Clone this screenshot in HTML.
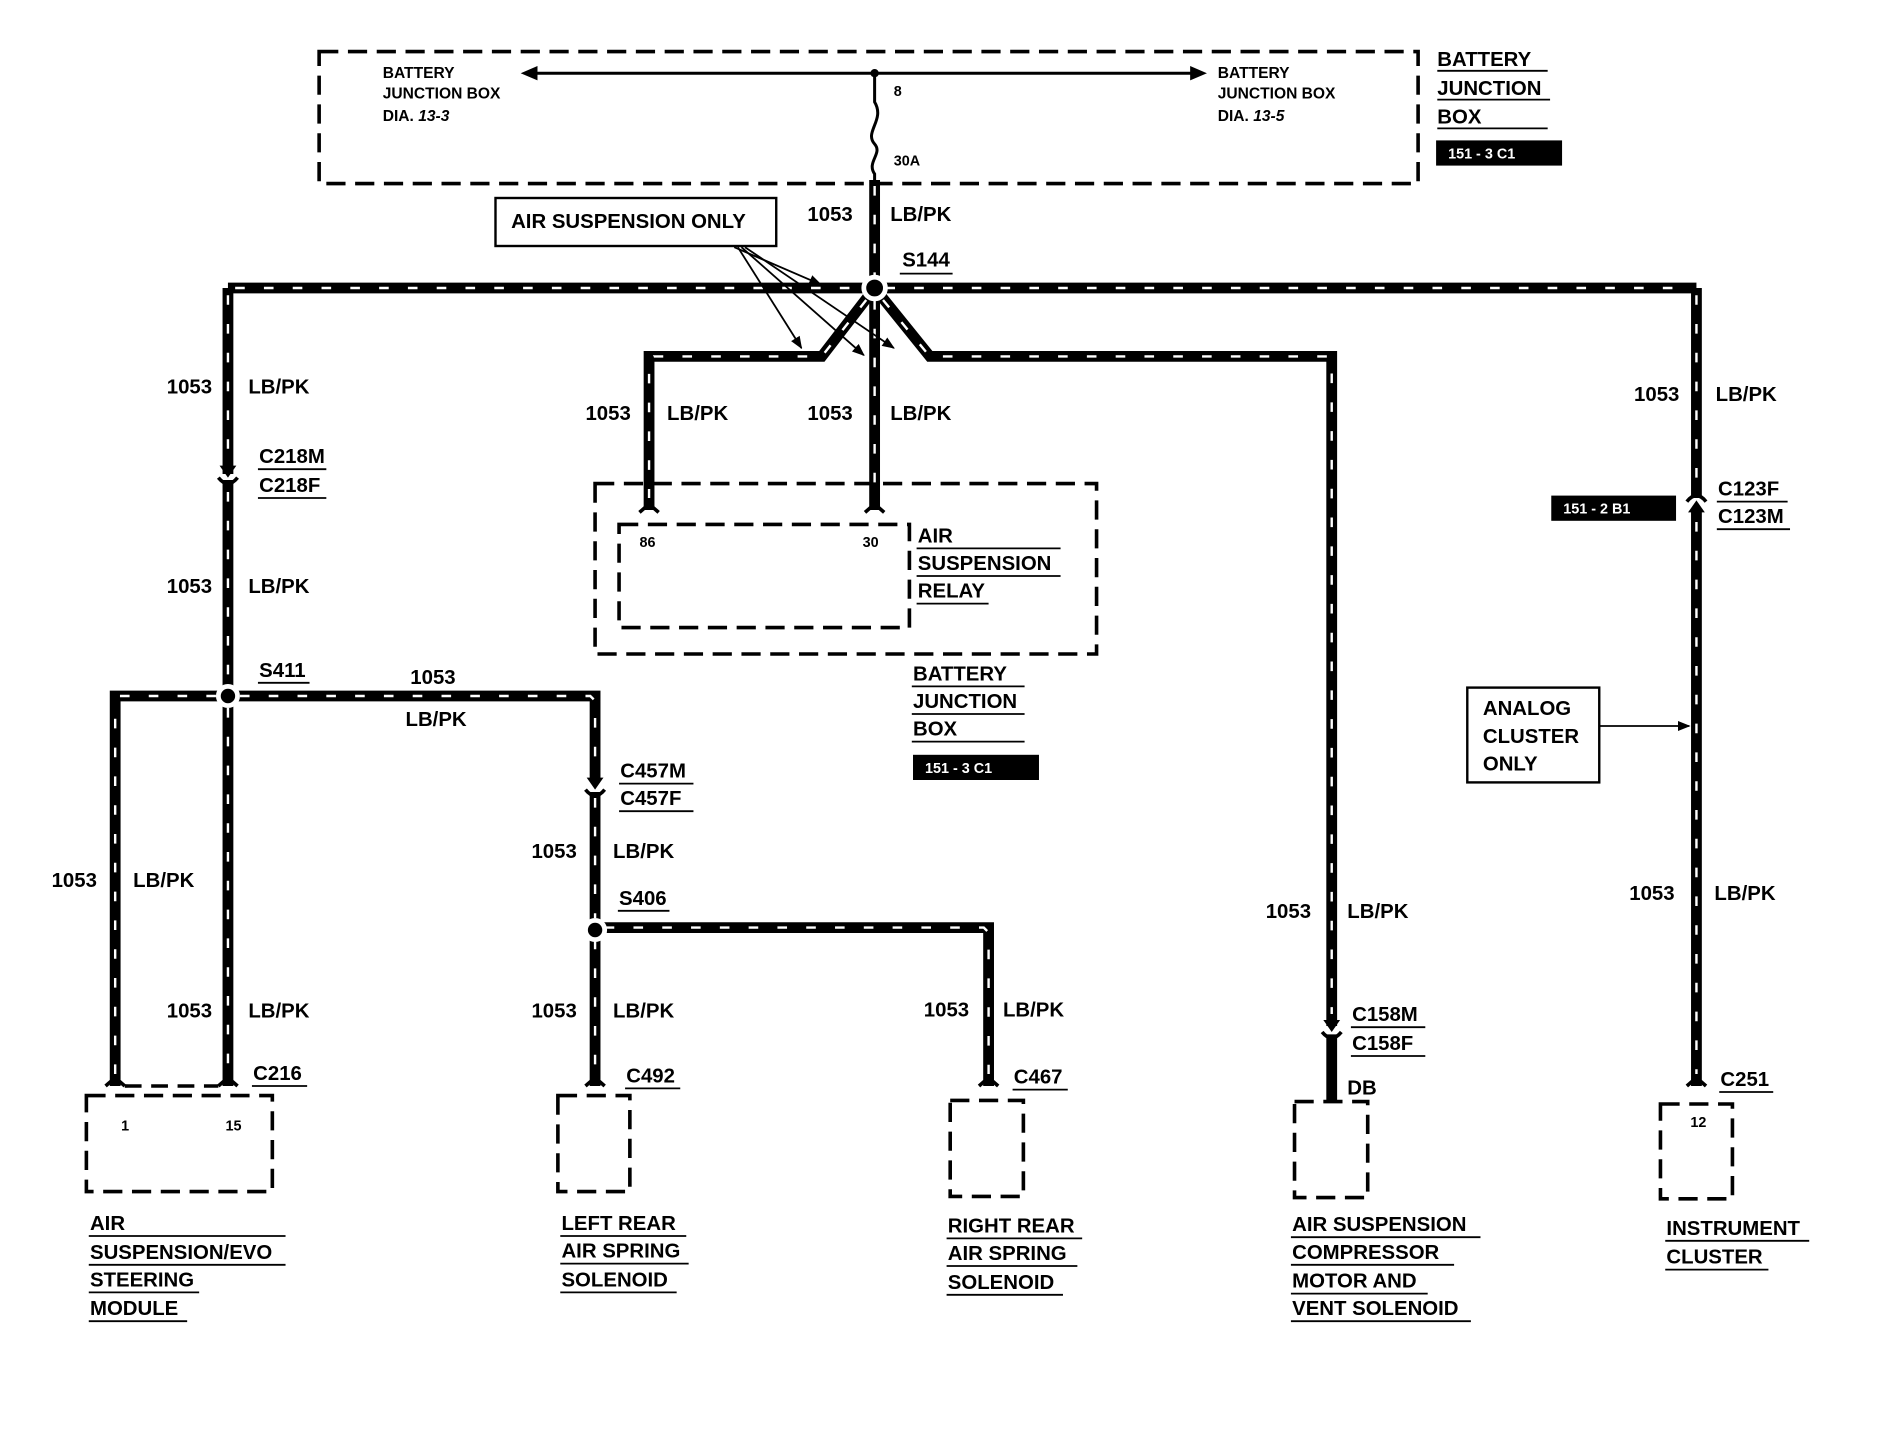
<!DOCTYPE html>
<html><head><meta charset="utf-8"><style>
html,body{margin:0;padding:0;background:#fff;}
svg{display:block;}
text{font-family:"Liberation Sans",Arial,sans-serif;font-weight:bold;fill:#000;}
</style></head><body>
<svg width="1880" height="1440" viewBox="0 0 1567 1200" preserveAspectRatio="none" xmlns="http://www.w3.org/2000/svg">
<defs>
<marker id="ah" viewBox="0 0 10 10" refX="9" refY="5" markerWidth="7" markerHeight="7" orient="auto"><path d="M0,1 L10,5 L0,9 z" fill="#000"/></marker>
</defs>
<rect width="1567" height="1200" fill="#fff"/>
<g fill="none" stroke="#000" stroke-width="3" stroke-dasharray="16,8">
<rect x="266" y="43" width="916" height="110"/>
<rect x="496" y="403" width="418" height="142"/>
<rect x="516" y="437" width="242" height="86"/>
<rect x="72" y="913" width="155" height="80"/>
<rect x="465" y="913" width="60" height="80"/>
<rect x="792" y="917" width="61" height="80"/>
<rect x="1079" y="918" width="61" height="80"/>
<rect x="1384" y="920" width="60" height="79"/>
</g>
<line x1="440" y1="61" x2="1000" y2="61" stroke="#000" stroke-width="2.5"/>
<path d="M448,55 L434,61 L448,67 z M992,55 L1006,61 L992,67 z"/>
<circle cx="729" cy="61" r="3.5"/>
<path d="M729,61 L729,85 C738,100 720,110 729,120 C736,128 722,135 729,145 L729,150" fill="none" stroke="#000" stroke-width="2.5"/>
<text x="319" y="65" font-size="13" font-weight="normal">BATTERY</text>
<text x="319" y="82" font-size="13" font-weight="normal">JUNCTION BOX</text>
<text x="319" y="101" font-size="13" font-weight="normal">DIA. <tspan font-style="italic">13-3</tspan></text>
<text x="1015" y="65" font-size="13" font-weight="normal">BATTERY</text>
<text x="1015" y="82" font-size="13" font-weight="normal">JUNCTION BOX</text>
<text x="1015" y="101" font-size="13" font-weight="normal">DIA. <tspan font-style="italic">13-5</tspan></text>
<text x="745" y="80" font-size="12" font-weight="normal">8</text>
<text x="745" y="138" font-size="12" font-weight="normal">30A</text>
<g fill="none" stroke="#000" stroke-width="9" stroke-linejoin="miter">
<path d="M729,150 L729,240"/>
<path d="M190,240 L1414,240"/>
<path d="M190,240 L190,395 M190,400 L190,905"/>
<path d="M96,905 L96,580 L496,580 L496,650 M496,660 L496,905"/>
<path d="M496,773 L824,773 L824,905"/>
<path d="M729,240 L685,297 L541,297 L541,425"/>
<path d="M729,240 L729,425"/>
<path d="M729,240 L775,297 L1110,297 L1110,855 M1110,862 L1110,918"/>
<path d="M1414,240 L1414,415 M1414,425 L1414,905"/>
</g>
<g fill="none" stroke="#fff" stroke-width="2" stroke-dasharray="8,16">
<path d="M729,155 L729,232"/>
<path d="M196,240 L720,240 M738,240 L1410,240"/>
<path d="M190,246 L190,390 M190,410 L190,570 M190,590 L190,895"/>
<path d="M96,895 L96,584 M100,580 L182,580 M200,580 L492,580 L496,584 L496,645 M496,665 L496,765 M496,783 L496,895"/>
<path d="M504,773 L820,773 L824,777 L824,895"/>
<path d="M722,250 L685,297 L545,297 L541,301 L541,415"/>
<path d="M729,250 L729,415"/>
<path d="M736,250 L775,297 L1106,297 L1110,301 L1110,845"/>
<path d="M1414,246 L1414,410 M1414,435 L1414,895"/>
</g>
<g stroke="#fff" stroke-width="4">
<circle cx="729" cy="240" r="9"/>
<circle cx="190" cy="580" r="8"/>
<circle cx="496" cy="775" r="8"/>
</g>
<g fill="#000">
<path d="M183,388 L197,388 L190,398 z"/>
<path d="M489,648 L503,648 L496,658 z"/>
<path d="M1103,850 L1117,850 L1110,860 z"/>
<path d="M1407,427 L1421,427 L1414,417 z"/>
</g>
<g fill="none" stroke="#000" stroke-width="3">
<path d="M182,398 Q190,408 198,398"/>
<path d="M488,658 Q496,668 504,658"/>
<path d="M1102,860 Q1110,870 1118,860"/>
<path d="M1406,418 Q1414,408 1422,418"/>
<path d="M88,905 L96,898 L104,905 M182,905 L190,898 L198,905"/>
<path d="M488,905 L496,898 L504,905 M816,905 L824,898 L832,905 M1406,905 L1414,898 L1422,905"/>
<path d="M533,427 L541,420 L549,427 M721,427 L729,420 L737,427"/>
</g>
<line x1="104" y1="905" x2="182" y2="905" stroke="#000" stroke-width="3" stroke-dasharray="14,8"/>
<rect x="413" y="165" width="234" height="40" fill="#fff" stroke="#000" stroke-width="2"/>
<text x="426" y="190" font-size="17">AIR SUSPENSION ONLY</text>
<g stroke="#000" stroke-width="1.5" fill="none" marker-end="url(#ah)">
<line x1="612" y1="206" x2="684" y2="237"/>
<line x1="615" y1="206" x2="668" y2="290"/>
<line x1="618" y1="206" x2="720" y2="296"/>
<line x1="621" y1="206" x2="745" y2="290"/>
<line x1="1333" y1="605" x2="1408" y2="605"/>
</g>
<rect x="1223" y="573" width="110" height="79" fill="#fff" stroke="#000" stroke-width="2"/>
<text x="1236" y="596" font-size="17">ANALOG</text>
<text x="1236" y="619" font-size="17">CLUSTER</text>
<text x="1236" y="642" font-size="17">ONLY</text>
<rect x="1197" y="117" width="105" height="21"/>
<text x="1207" y="132" font-size="12" font-weight="normal" style="fill:#fff">151 - 3 C1</text>
<rect x="1293" y="413" width="104" height="21"/>
<text x="1303" y="428" font-size="12" font-weight="normal" style="fill:#fff">151 - 2 B1</text>
<rect x="761" y="629" width="105" height="21"/>
<text x="771" y="644" font-size="12" font-weight="normal" style="fill:#fff">151 - 3 C1</text>
<g font-size="17">
<text x="1198" y="55">BATTERY</text>
<text x="1198" y="79">JUNCTION</text>
<text x="1198" y="103">BOX</text>
<text x="673" y="184">1053</text><text x="742" y="184">LB/PK</text>
<text x="752" y="222">S144</text>
<text x="139" y="328">1053</text><text x="207" y="328">LB/PK</text>
<text x="216" y="386">C218M</text><text x="216" y="410">C218F</text>
<text x="139" y="494">1053</text><text x="207" y="494">LB/PK</text>
<text x="216" y="564">S411</text>
<text x="342" y="570">1053</text>
<text x="338" y="605">LB/PK</text>
<text x="43" y="739">1053</text><text x="111" y="739">LB/PK</text>
<text x="139" y="848">1053</text><text x="207" y="848">LB/PK</text>
<text x="211" y="900">C216</text>
<text x="488" y="350">1053</text><text x="556" y="350">LB/PK</text>
<text x="673" y="350">1053</text><text x="742" y="350">LB/PK</text>
<text x="765" y="452">AIR</text><text x="765" y="475">SUSPENSION</text><text x="765" y="498">RELAY</text>
<text x="761" y="567">BATTERY</text><text x="761" y="590">JUNCTION</text><text x="761" y="613">BOX</text>
<text x="517" y="648">C457M</text><text x="517" y="671">C457F</text>
<text x="443" y="715">1053</text><text x="511" y="715">LB/PK</text>
<text x="516" y="754">S406</text>
<text x="443" y="848">1053</text><text x="511" y="848">LB/PK</text>
<text x="522" y="902">C492</text>
<text x="770" y="847">1053</text><text x="836" y="847">LB/PK</text>
<text x="845" y="903">C467</text>
<text x="1055" y="765">1053</text><text x="1123" y="765">LB/PK</text>
<text x="1127" y="851">C158M</text><text x="1127" y="875">C158F</text>
<text x="1123" y="912">DB</text>
<text x="1362" y="334">1053</text><text x="1430" y="334">LB/PK</text>
<text x="1432" y="413">C123F</text><text x="1432" y="436">C123M</text>
<text x="1358" y="750">1053</text><text x="1429" y="750">LB/PK</text>
<text x="1434" y="905">C251</text>
<text x="75" y="1025">AIR</text><text x="75" y="1049">SUSPENSION/EVO</text><text x="75" y="1072">STEERING</text><text x="75" y="1096">MODULE</text>
<text x="468" y="1025">LEFT REAR</text><text x="468" y="1048">AIR SPRING</text><text x="468" y="1072">SOLENOID</text>
<text x="790" y="1027">RIGHT REAR</text><text x="790" y="1050">AIR SPRING</text><text x="790" y="1074">SOLENOID</text>
<text x="1077" y="1026">AIR SUSPENSION</text><text x="1077" y="1049">COMPRESSOR</text><text x="1077" y="1073">MOTOR AND</text><text x="1077" y="1096">VENT SOLENOID</text>
<text x="1389" y="1029">INSTRUMENT</text><text x="1389" y="1053">CLUSTER</text>
</g>
<g font-size="12" font-weight="normal">
<text x="533" y="456">86</text><text x="719" y="456">30</text>
<text x="101" y="942">1</text><text x="188" y="942">15</text>
<text x="1409" y="939">12</text>
</g>
<g stroke="#000" stroke-width="1.5">
<line x1="1198" y1="59" x2="1290" y2="59"/><line x1="1198" y1="83" x2="1292" y2="83"/><line x1="1198" y1="107" x2="1290" y2="107"/>
<line x1="750" y1="228" x2="794" y2="228"/>
<line x1="215" y1="391" x2="272" y2="391"/><line x1="215" y1="415" x2="272" y2="415"/>
<line x1="215" y1="569" x2="258" y2="569"/>
<line x1="764" y1="457" x2="884" y2="457"/><line x1="764" y1="480" x2="884" y2="480"/><line x1="764" y1="503" x2="824" y2="503"/>
<line x1="760" y1="572" x2="854" y2="572"/><line x1="760" y1="595" x2="854" y2="595"/><line x1="760" y1="618" x2="854" y2="618"/>
<line x1="516" y1="653" x2="578" y2="653"/><line x1="516" y1="676" x2="578" y2="676"/>
<line x1="515" y1="759" x2="558" y2="759"/>
<line x1="210" y1="905" x2="256" y2="905"/>
<line x1="521" y1="907" x2="567" y2="907"/>
<line x1="844" y1="908" x2="890" y2="908"/>
<line x1="1126" y1="856" x2="1188" y2="856"/><line x1="1126" y1="880" x2="1188" y2="880"/>
<line x1="1431" y1="418" x2="1490" y2="418"/><line x1="1431" y1="441" x2="1492" y2="441"/>
<line x1="1433" y1="910" x2="1478" y2="910"/>
<line x1="74" y1="1030" x2="238" y2="1030"/><line x1="74" y1="1054" x2="238" y2="1054"/><line x1="74" y1="1077" x2="166" y2="1077"/><line x1="74" y1="1101" x2="156" y2="1101"/>
<line x1="467" y1="1030" x2="572" y2="1030"/><line x1="467" y1="1053" x2="574" y2="1053"/><line x1="467" y1="1077" x2="564" y2="1077"/>
<line x1="789" y1="1032" x2="902" y2="1032"/><line x1="789" y1="1055" x2="898" y2="1055"/><line x1="789" y1="1079" x2="886" y2="1079"/>
<line x1="1076" y1="1031" x2="1234" y2="1031"/><line x1="1076" y1="1054" x2="1212" y2="1054"/><line x1="1076" y1="1078" x2="1190" y2="1078"/><line x1="1076" y1="1101" x2="1226" y2="1101"/>
<line x1="1388" y1="1034" x2="1508" y2="1034"/><line x1="1388" y1="1058" x2="1474" y2="1058"/>
</g>
</svg>
</body></html>
